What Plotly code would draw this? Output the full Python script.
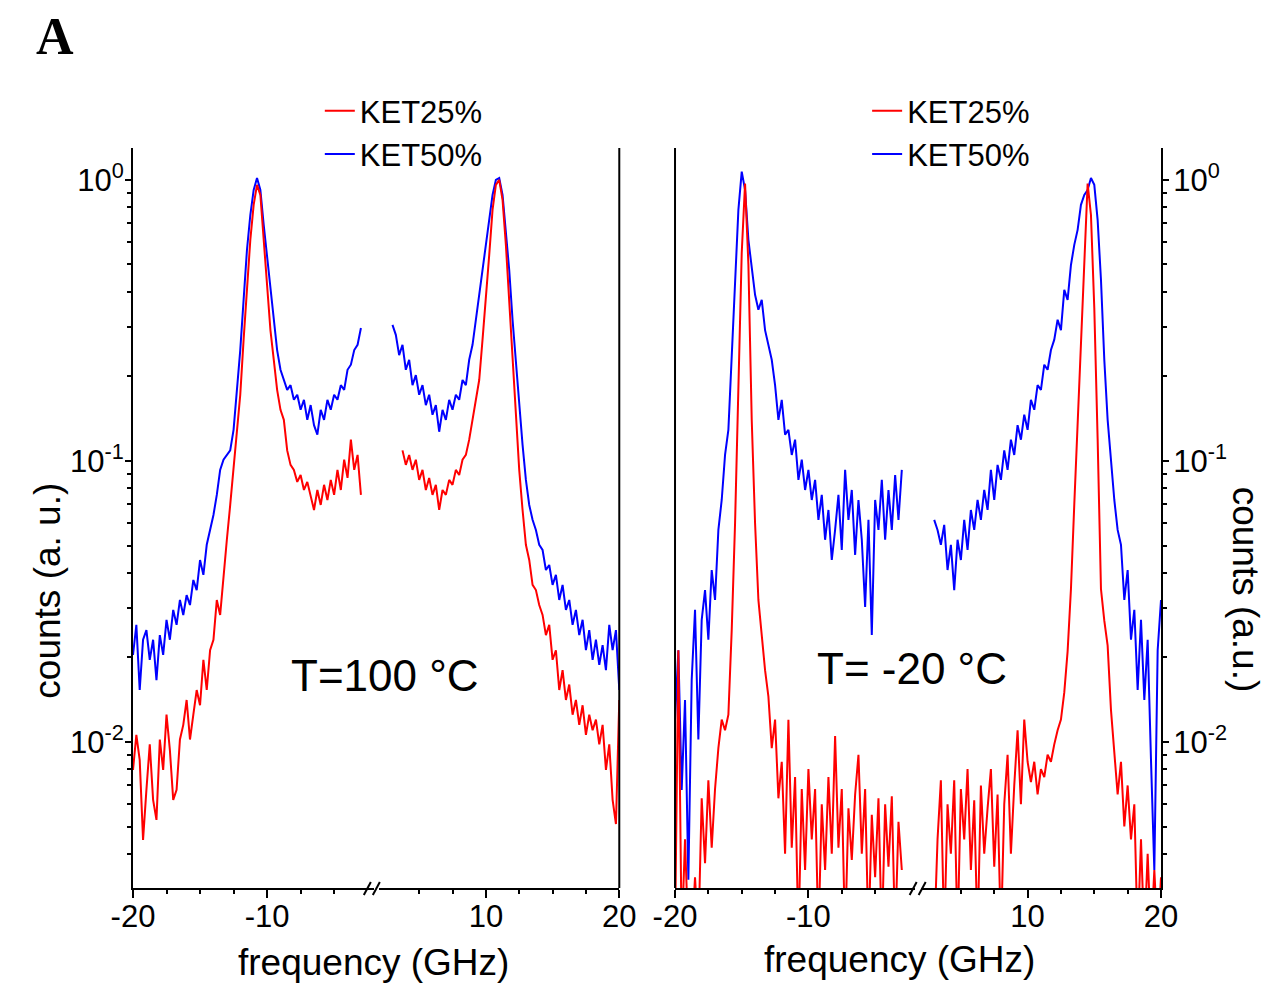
import numpy as np
import plotly.graph_objects as go

# ---------------- data ----------------
freq_neg = np.arange(-20.0, -2.99, 0.25)      # GHz, left branch (-20 ... -3)
freq_pos = np.arange(3.0, 20.01, 0.25)        # GHz, right branch (3 ... 20)
freq_pos_red_hot = freq_pos[3:]               # KET25% at 100 C starts at 3.75 GHz

# T = 100 C
hot_ket25_neg = [
    0.00795, 0.0106, 0.00863, 0.00448, 0.00675, 0.0098, 0.00622, 0.00528, 0.0102, 0.00795,
    0.0125, 0.00937, 0.00622, 0.00675, 0.0102, 0.0115, 0.0141, 0.0102, 0.0125, 0.0153,
    0.0135, 0.0196, 0.0153, 0.0212, 0.0231, 0.0320, 0.0283, 0.0393, 0.0524, 0.0697,
    0.0929, 0.129, 0.172, 0.270, 0.406, 0.612, 0.815, 0.96, 0.884, 0.612,
    0.441, 0.292, 0.229, 0.179, 0.152, 0.140, 0.109, 0.0968, 0.0929, 0.0842,
    0.0891, 0.0788, 0.0842, 0.0757, 0.0669, 0.0788, 0.0697, 0.0822, 0.0726, 0.0856,
    0.0757, 0.0929, 0.0788, 0.101, 0.087, 0.119, 0.0929, 0.105, 0.0757]
hot_ket50_neg = [
    0.0204, 0.0261, 0.0153, 0.0231, 0.0250, 0.0196, 0.0231, 0.0166, 0.0240, 0.0204,
    0.0272, 0.0231, 0.0295, 0.0261, 0.0320, 0.0283, 0.0333, 0.0307, 0.0377, 0.0347,
    0.0444, 0.0393, 0.0503, 0.0568, 0.0642, 0.0757, 0.0929, 0.101, 0.105, 0.109,
    0.129, 0.179, 0.248, 0.374, 0.564, 0.75, 0.921, 1.016, 0.921, 0.69,
    0.54, 0.406, 0.318, 0.248, 0.211, 0.194, 0.179, 0.186, 0.165, 0.172,
    0.152, 0.165, 0.140, 0.158, 0.134, 0.124, 0.152, 0.140, 0.165, 0.152,
    0.172, 0.165, 0.186, 0.179, 0.211, 0.22, 0.248, 0.259, 0.297]
hot_ket25_pos = [
    0.109, 0.0968, 0.105, 0.0929, 0.101, 0.0856, 0.0929, 0.0788, 0.087, 0.0757,
    0.0822, 0.0669, 0.0788, 0.0757, 0.0856, 0.0822, 0.0929, 0.0891, 0.101, 0.105,
    0.119, 0.140, 0.165, 0.194, 0.270, 0.374, 0.54, 0.782, 0.96, 1.0,
    0.849, 0.587, 0.374, 0.229, 0.140, 0.0929, 0.0669, 0.0503, 0.0444, 0.0362,
    0.0347, 0.0307, 0.0283, 0.0240, 0.0261, 0.0196, 0.0212, 0.0153, 0.0180, 0.0141,
    0.0160, 0.0125, 0.0141, 0.0115, 0.0135, 0.0106, 0.0125, 0.0110, 0.0120, 0.0098,
    0.0115, 0.00795, 0.0098, 0.00622, 0.0051, 0.0141]
hot_ket50_pos = [
    0.305, 0.281, 0.238, 0.259, 0.211, 0.229, 0.186, 0.202, 0.172, 0.186,
    0.158, 0.172, 0.146, 0.158, 0.127, 0.152, 0.140, 0.165, 0.152, 0.172,
    0.165, 0.194, 0.186, 0.229, 0.259, 0.318, 0.374, 0.459, 0.564, 0.721,
    0.884, 1.0, 1.016, 0.884, 0.664, 0.478, 0.318, 0.22, 0.152, 0.114,
    0.0856, 0.0697, 0.0617, 0.0568, 0.0503, 0.0482, 0.0409, 0.0426, 0.0362, 0.0393,
    0.0320, 0.0362, 0.0295, 0.0320, 0.0261, 0.0295, 0.0240, 0.0272, 0.0212, 0.0250,
    0.0196, 0.0231, 0.0188, 0.0221, 0.0180, 0.0261, 0.0212, 0.0250, 0.0153]

# T = -20 C
cold_ket25_neg = [
    0.002, 0.0212, 0.002, 0.0045, 0.002, 0.002, 0.0033, 0.002, 0.0063, 0.0037,
    0.0073, 0.0042, 0.0068, 0.0095, 0.012, 0.011, 0.0125, 0.025, 0.06, 0.2,
    0.55, 0.97, 0.5, 0.14, 0.06, 0.032, 0.024, 0.018, 0.0145, 0.0095,
    0.012, 0.0063, 0.0085, 0.0040, 0.0120, 0.0042, 0.0075, 0.002, 0.0068, 0.0035,
    0.0080, 0.0045, 0.0068, 0.002, 0.0060, 0.0035, 0.0075, 0.0040, 0.0105, 0.0042,
    0.0068, 0.002, 0.0058, 0.0038, 0.0065, 0.0090, 0.0040, 0.0068, 0.002, 0.0055,
    0.0033, 0.0063, 0.002, 0.0060, 0.0036, 0.0064, 0.002, 0.0052, 0.0035]
cold_ket50_neg = [
    0.0120, 0.0212, 0.00675, 0.0141, 0.00323, 0.0166, 0.0295, 0.0102, 0.0272, 0.0347,
    0.0231, 0.0409, 0.0320, 0.0568, 0.0726, 0.105, 0.129, 0.229, 0.441, 0.782,
    1.07, 0.921, 0.612, 0.478, 0.39, 0.345, 0.374, 0.292, 0.259, 0.229,
    0.186, 0.140, 0.165, 0.124, 0.129, 0.105, 0.119, 0.0856, 0.101, 0.0788,
    0.0929, 0.0726, 0.0856, 0.0617, 0.0757, 0.0524, 0.0669, 0.0444, 0.0568, 0.0757,
    0.0482, 0.0929, 0.0617, 0.0788, 0.0463, 0.0726, 0.0524, 0.0302, 0.0617, 0.0240,
    0.0726, 0.0568, 0.0856, 0.0524, 0.0788, 0.0568, 0.0891, 0.0617, 0.0929]
cold_ket25_pos = [
    0.002, 0.0045, 0.0073, 0.002, 0.0060, 0.0040, 0.0073, 0.002, 0.0068, 0.0045,
    0.0080, 0.0035, 0.0062, 0.002, 0.0070, 0.0040, 0.0058, 0.0080, 0.0036, 0.0065,
    0.002, 0.0060, 0.0090, 0.0040, 0.0070, 0.0110, 0.0060, 0.0120, 0.0085, 0.0072,
    0.0085, 0.0065, 0.0080, 0.0075, 0.0090, 0.0085, 0.0098, 0.0110, 0.0120, 0.0150,
    0.0210, 0.035, 0.070, 0.14, 0.25, 0.5, 0.97, 0.75, 0.35, 0.12,
    0.035, 0.027, 0.022, 0.013, 0.0095, 0.0065, 0.0085, 0.0050, 0.0070, 0.0045,
    0.0060, 0.002, 0.0045, 0.002, 0.0040, 0.002, 0.0035, 0.002, 0.0033]
cold_ket50_pos = [
    0.0617, 0.0568, 0.0503, 0.0592, 0.0409, 0.0503, 0.0347, 0.0524, 0.0444, 0.0617,
    0.0482, 0.0669, 0.0568, 0.0726, 0.0617, 0.0788, 0.0669, 0.0929, 0.0726, 0.0968,
    0.0856, 0.109, 0.0929, 0.119, 0.105, 0.134, 0.119, 0.146, 0.129, 0.165,
    0.152, 0.186, 0.179, 0.22, 0.211, 0.248, 0.270, 0.318, 0.292, 0.406,
    0.374, 0.498, 0.587, 0.664, 0.815, 0.884, 0.921, 1.016, 0.96, 0.721,
    0.441, 0.229, 0.140, 0.101, 0.0726, 0.0568, 0.0503, 0.0320, 0.0409, 0.0231,
    0.0295, 0.0153, 0.0272, 0.0141, 0.0231, 0.00863, 0.0035, 0.0212, 0.0320]

series_names = ["KET25%", "KET50%"]
x_ticks_neg = [-20, -10]
x_ticks_pos = [10, 20]
x_minor_neg = [-17.5, -15, -12.5, -7.5, -5]
x_minor_pos = [5, 7.5, 12.5, 15, 17.5]
y_ticks = [0.01, 0.1, 1]
y_ticktext = ["10<sup>-2</sup>", "10<sup>-1</sup>", "10<sup>0</sup>"]
y_minor = [m * 10.0 ** e for e in (-3, -2, -1) for m in range(2, 10)]

# ---------------- layout helpers ----------------
W, H = 1265, 983
ML, MR, MT, MB = 133.3, 104.3, 148.0, 95.0
PW, PH = W - ML - MR, H - MT - MB


def fx(p):
    return (p - ML) / PW


def fy(p):
    return (H - MB - p) / PH


RED = "#FF0000"
BLUE = "#0000FF"
FONT = "Liberation Sans, Arial, sans-serif"

fig = go.Figure()


def add(x, y, xa, ya, color, name, rank, legend, show):
    fig.add_trace(go.Scatter(
        x=x, y=y, xaxis=xa, yaxis=ya, mode="lines", name=name,
        line=dict(color=color, width=2), legend=legend, legendrank=rank,
        showlegend=show, hoverinfo="x+y+name"))


# blue first, red on top
add(freq_neg, hot_ket50_neg, "x", "y", BLUE, series_names[1], 2, "legend", True)
add(freq_pos, hot_ket50_pos, "x2", "y", BLUE, series_names[1], 2, "legend", False)
add(freq_neg, hot_ket25_neg, "x", "y", RED, series_names[0], 1, "legend", True)
add(freq_pos_red_hot, hot_ket25_pos, "x2", "y", RED, series_names[0], 1, "legend", False)

add(freq_neg, cold_ket50_neg, "x3", "y2", BLUE, series_names[1], 2, "legend2", True)
add(freq_pos, cold_ket50_pos, "x4", "y2", BLUE, series_names[1], 2, "legend2", False)
add(freq_neg, cold_ket25_neg, "x3", "y2", RED, series_names[0], 1, "legend2", True)
add(freq_pos, cold_ket25_pos, "x4", "y2", RED, series_names[0], 1, "legend2", False)

tickfont = dict(family=FONT, size=31, color="black")
common = dict(showline=True, linecolor="black", linewidth=2, ticks="outside",
              ticklen=8, tickwidth=2, tickcolor="black", showgrid=False,
              zeroline=False, tickfont=tickfont, fixedrange=True)


def xminor(vals):
    return dict(tickmode="array", tickvals=vals, ticks="outside", ticklen=4,
                tickwidth=2, tickcolor="black", showgrid=False)


def xneg(dom, anchor):
    return dict(common, domain=dom, anchor=anchor, range=[-20, -2],
                tickmode="array", tickvals=x_ticks_neg, ticklabelstandoff=-8,
                ticktext=[str(v) for v in x_ticks_neg], minor=xminor(x_minor_neg))


def xpos(dom, anchor):
    return dict(common, domain=dom, anchor=anchor, range=[2, 20],
                tickmode="array", tickvals=x_ticks_pos, ticklabelstandoff=-8,
                ticktext=[str(v) for v in x_ticks_pos], minor=xminor(x_minor_pos))


yrange = [np.log10(0.003021), np.log10(1.2986)]
ycommon = dict(common, type="log", range=yrange, domain=[0, 1], tickmode="array",
               tickvals=y_ticks, ticktext=y_ticktext, ticklen=6,
               minor=dict(tickmode="array", tickvals=y_minor, ticks="outside",
                          ticklen=4, tickwidth=2, tickcolor="black", showgrid=False))

fig.update_layout(
    width=W, height=H,
    margin=dict(l=ML, r=MR, t=MT, b=MB, autoexpand=False),
    paper_bgcolor="white", plot_bgcolor="rgba(0,0,0,0)",
    font=dict(family=FONT, color="black"),
    xaxis=xneg([0, fx(374.5)], "y"),
    xaxis2=xpos([fx(379.3), fx(619.3)], "y"),
    xaxis3=xneg([fx(675), fx(915)], "y2"),
    xaxis4=xpos([fx(920.7), min(1.0, fx(1160.7))], "y2"),
    yaxis=dict(ycommon, anchor="x", side="left", ticklabelstandoff=-5),
    yaxis2=dict(ycommon, anchor="x4", side="right", ticklabelstandoff=-2),
    legend=dict(x=fx(320), y=fy(84), xanchor="left", yanchor="top",
                font=dict(family=FONT, size=31, color="black"),
                bgcolor="rgba(0,0,0,0)", tracegroupgap=0),
    legend2=dict(x=fx(867), y=fy(84), xanchor="left", yanchor="top",
                 font=dict(family=FONT, size=31, color="black"),
                 bgcolor="rgba(0,0,0,0)", tracegroupgap=0),
    showlegend=True,
)

# frame lines (panel borders without ticks)
shapes = [
    dict(type="line", xref="paper", yref="paper", x0=fx(619.3), x1=fx(619.3), y0=0, y1=1,
         line=dict(color="black", width=2)),
    dict(type="line", xref="paper", yref="paper", x0=fx(675), x1=fx(675), y0=0, y1=1,
         line=dict(color="black", width=2)),
]
# axis-break marks "//"
for cx in (372.0, 917.5):
    for dx in (-4.5, 4.5):
        shapes.append(dict(type="line", xref="paper", yref="paper",
                           x0=fx(cx + dx - 3.5), y0=fy(895), x1=fx(cx + dx + 3.5), y1=fy(882),
                           line=dict(color="black", width=2)))
fig.update_layout(shapes=shapes)


def label(text, x, y, size, angle=0, family=FONT):
    return dict(text=text, x=fx(x), y=fy(y), xref="paper", yref="paper",
                xanchor="center", yanchor="middle", showarrow=False, textangle=angle,
                font=dict(family=family, size=size, color="black"))


annotations = [
    label("<b>A</b>", 55, 36, 52, family="Liberation Serif, Times New Roman, serif"),
    label("T=100 °C", 385, 675, 44),
    label("T= -20 °C", 912, 668, 44),
    label("frequency (GHz)", 374, 962, 37),
    label("frequency (GHz)", 899, 959, 37),
    label("counts (a. u.)", 47, 591, 37, angle=-90),
    label("counts (a.u.)", 1246, 590, 37, angle=90),
]
fig.update_layout(annotations=annotations)

fig.write_html("out.html", config={"displayModeBar": False},
               post_script="document.body.style.margin='0px';")
